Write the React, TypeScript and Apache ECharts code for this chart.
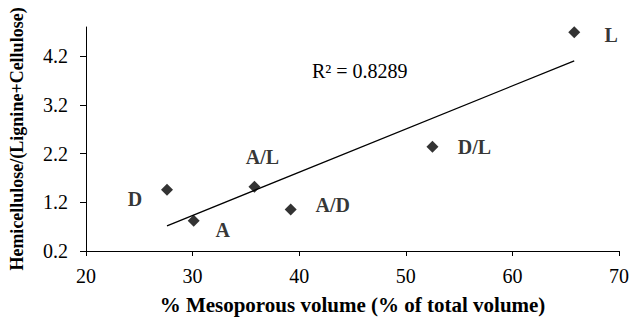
import React, { useEffect, useRef } from "react";
import * as echarts from "echarts";

// Data
const sampleNames = ["D", "A", "A/L", "A/D", "D/L", "L"];
const mesoporousVolume = [27.6, 30.1, 35.8, 39.2, 52.5, 65.8];
const hemicelluloseRatio = [1.46, 0.82, 1.52, 1.05, 2.34, 4.69];
const yTickValues = [0.2, 1.2, 2.2, 3.2, 4.2];
const xTickValues = [20, 30, 40, 50, 60, 70];
const rSquaredText = "R\u00B2 = 0.8289";

// Label placement (styling only): offset of label centre from its point
const labelOffsets: Record<string, [number, number]> = {
  D: [-32, 9],
  A: [29, 9],
  "A/L": [8, -30],
  "A/D": [42, -5],
  "D/L": [42, 0],
  L: [37, 3],
};

function linearFit(xs: number[], ys: number[]) {
  const n = xs.length;
  const mx = xs.reduce((a, b) => a + b, 0) / n;
  const my = ys.reduce((a, b) => a + b, 0) / n;
  let sxy = 0;
  let sxx = 0;
  for (let i = 0; i < n; i++) {
    sxy += (xs[i] - mx) * (ys[i] - my);
    sxx += (xs[i] - mx) * (xs[i] - mx);
  }
  const slope = sxy / sxx;
  return { slope, intercept: my - slope * mx };
}

const FONT = "Liberation Serif";

export default function App() {
  const ref = useRef<HTMLDivElement>(null);

  useEffect(() => {
    if (!ref.current) return;
    const chart = echarts.init(ref.current, null, { renderer: "svg" });

    const fit = linearFit(mesoporousVolume, hemicelluloseRatio);
    const xMin = Math.min(...mesoporousVolume);
    const xMax = Math.max(...mesoporousVolume);
    const trend = [
      [xMin, fit.slope * xMin + fit.intercept],
      [xMax, fit.slope * xMax + fit.intercept],
    ];

    const points = sampleNames.map((name, i) => ({
      name,
      value: [mesoporousVolume[i], hemicelluloseRatio[i]],
      label: {
        show: true,
        position: "inside",
        offset: labelOffsets[name],
        formatter: name,
      },
    }));

    chart.setOption({
      animation: false,
      backgroundColor: "#ffffff",
      textStyle: { fontFamily: FONT },
      grid: { left: 81, right: 10, top: 27, bottom: 66, containLabel: false },
      xAxis: {
        type: "value",
        min: 20,
        max: 70,
        interval: 10,
        name: "% Mesoporous volume (% of total volume)",
        nameLocation: "middle",
        nameGap: 43,
        nameTextStyle: {
          fontFamily: FONT,
          fontWeight: "bold",
          fontSize: 21,
          color: "#000",
        },
        axisLine: { show: true, lineStyle: { color: "#000", width: 1 } },
        axisTick: {
          show: true,
          inside: false,
          length: 5,
          customValues: xTickValues,
          lineStyle: { color: "#000" },
        },
        axisLabel: {
          color: "#000",
          fontFamily: FONT,
          fontSize: 20,
          margin: 15,
          customValues: xTickValues,
        },
        splitLine: { show: false },
      },
      yAxis: {
        type: "value",
        min: 0.2,
        max: 4.8,
        name: "Hemicellulose/(Lignine+Cellulose)",
        nameLocation: "middle",
        nameGap: 60,
        nameTextStyle: {
          fontFamily: FONT,
          fontWeight: "bold",
          fontSize: 18,
          color: "#000",
        },
        axisLine: { show: true, lineStyle: { color: "#000", width: 1 } },
        axisTick: {
          show: true,
          inside: false,
          length: 6,
          customValues: yTickValues,
          lineStyle: { color: "#000" },
        },
        axisLabel: {
          color: "#000",
          fontFamily: FONT,
          fontSize: 20,
          margin: 18,
          customValues: yTickValues,
          formatter: (v: number) => v.toFixed(1),
        },
        splitLine: { show: false },
      },
      series: [
        {
          type: "line",
          data: trend,
          symbol: "none",
          lineStyle: { color: "#000", width: 1.3 },
          silent: true,
          z: 1,
        },
        {
          type: "scatter",
          data: points,
          symbol: "diamond",
          symbolSize: 12,
          itemStyle: { color: "#000" },
          label: {
            color: "#000",
            fontFamily: FONT,
            fontWeight: "bold",
            fontSize: 20,
          },
          z: 2,
        },
      ],
      graphic: [
        {
          type: "text",
          left: 312,
          top: 61,
          style: {
            text: rSquaredText,
            fontFamily: FONT,
            fontSize: 20,
            fill: "#000",
          },
        },
      ],
    });

    return () => chart.dispose();
  }, []);

  return (
    <div
      ref={ref}
      style={{ position: "fixed", left: 0, top: 0, width: 632, height: 320 }}
    />
  );
}
